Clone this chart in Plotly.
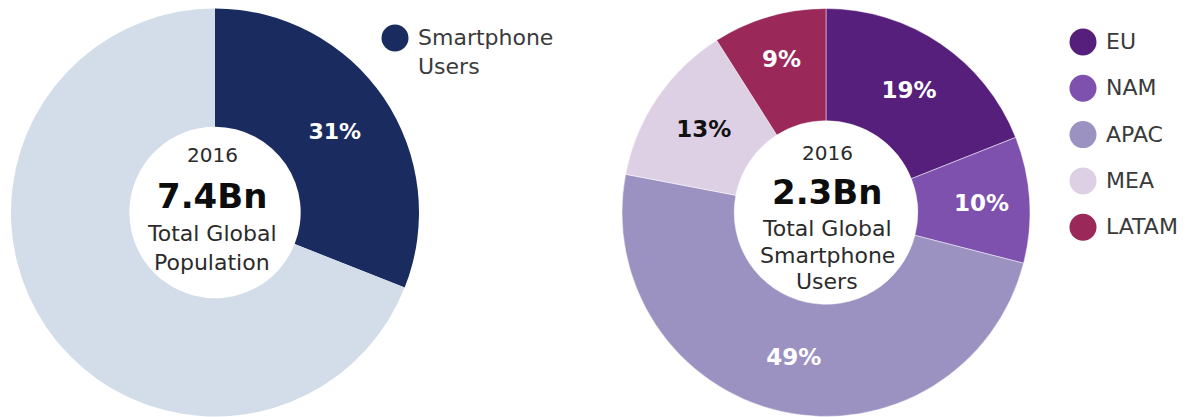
import plotly.graph_objects as go

W, H = 1202, 417

# ---- data ----
pop_labels = ["Smartphone Users", "Other Population"]
pop_values = [31, 69]
pop_colors = ["#1a2b5f", "#d3dde9"]

reg_labels = ["EU", "NAM", "APAC", "MEA", "LATAM"]
reg_values = [19, 10, 49, 13, 9]
reg_colors = ["#561f7b", "#7e51ae", "#9c92c2", "#ddd0e5", "#9a2859"]
reg_text_colors = ["white", "white", "white", "#111111", "white"]

left_center = ["2016", "7.4Bn", "Total Global", "Population"]
right_center = ["2016", "2.3Bn", "Total Global", "Smartphone", "Users"]

FONT = "DejaVu Sans"


def px_x(x):
    return x / W


def px_y(y):
    return 1 - y / H


def domain(cx, cy, r):
    return dict(x=[px_x(cx - r), px_x(cx + r)], y=[px_y(cy + r), px_y(cy - r)])


fig = go.Figure()

fig.add_trace(go.Pie(
    labels=pop_labels, values=pop_values, sort=False, direction="clockwise",
    rotation=0, hole=0.42,
    marker=dict(colors=pop_colors, line=dict(width=0)),
    texttemplate=["<b>%{value}%</b>", ""],
    textposition="inside", insidetextorientation="horizontal",
    insidetextfont=dict(family=FONT, size=22, color="white"),
    hoverinfo="skip", showlegend=False,
    domain=domain(215, 212.5, 204),
))

fig.add_trace(go.Pie(
    labels=reg_labels, values=reg_values, sort=False, direction="clockwise",
    rotation=0, hole=0.45,
    marker=dict(colors=reg_colors, line=dict(width=0.8, color="rgba(255,255,255,0.6)")),
    texttemplate="<b>%{value}%</b>",
    textposition="inside", insidetextorientation="horizontal",
    insidetextfont=dict(family=FONT, size=23, color=reg_text_colors),
    hoverinfo="skip", showlegend=False,
    domain=domain(826, 212.5, 204),
))

annotations = []
shapes = []


def center_text(cx, lines, ys):
    for i, (t, y) in enumerate(zip(lines, ys)):
        big = i == 1
        size = 34 if big else (20 if i == 0 else 22)
        annotations.append(dict(
            x=px_x(cx), y=px_y(y), xref="paper", yref="paper",
            text=f"<b>{t}</b>" if big else t, showarrow=False,
            xanchor="center", yanchor="middle",
            font=dict(family=FONT, size=size,
                      color="#0d0d0d" if big else "#2b2b2b"),
        ))


center_text(212, left_center, [155, 196, 233, 262])
center_text(827, right_center, [153, 192, 228, 255, 281])


def legend_item(cx, cy, color, label_lines):
    r = 13.5
    shapes.append(dict(type="circle", xref="paper", yref="paper",
                       x0=px_x(cx - r), x1=px_x(cx + r),
                       y0=px_y(cy + r), y1=px_y(cy - r),
                       fillcolor=color, line=dict(width=0)))
    annotations.append(dict(
        x=px_x(cx + 21), y=px_y(cy - 15), xref="paper", yref="paper",
        text="<br>".join(label_lines), showarrow=False,
        xanchor="left", yanchor="top", align="left",
        font=dict(family=FONT, size=22, color="#3a3a3a"),
    ))


legend_item(395, 38, pop_colors[0], ["Smartphone", "Users"])
for i, (lab, col) in enumerate(zip(reg_labels, reg_colors)):
    legend_item(1083, 42 + i * 46.3, col, [lab])

fig.update_layout(
    width=W, height=H, margin=dict(l=0, r=0, t=0, b=0),
    paper_bgcolor="white", plot_bgcolor="white",
    annotations=annotations, shapes=shapes,
)

fig.write_html("out.html", config={"displayModeBar": False, "staticPlot": True},
               post_script="document.body.style.margin='0px';")
